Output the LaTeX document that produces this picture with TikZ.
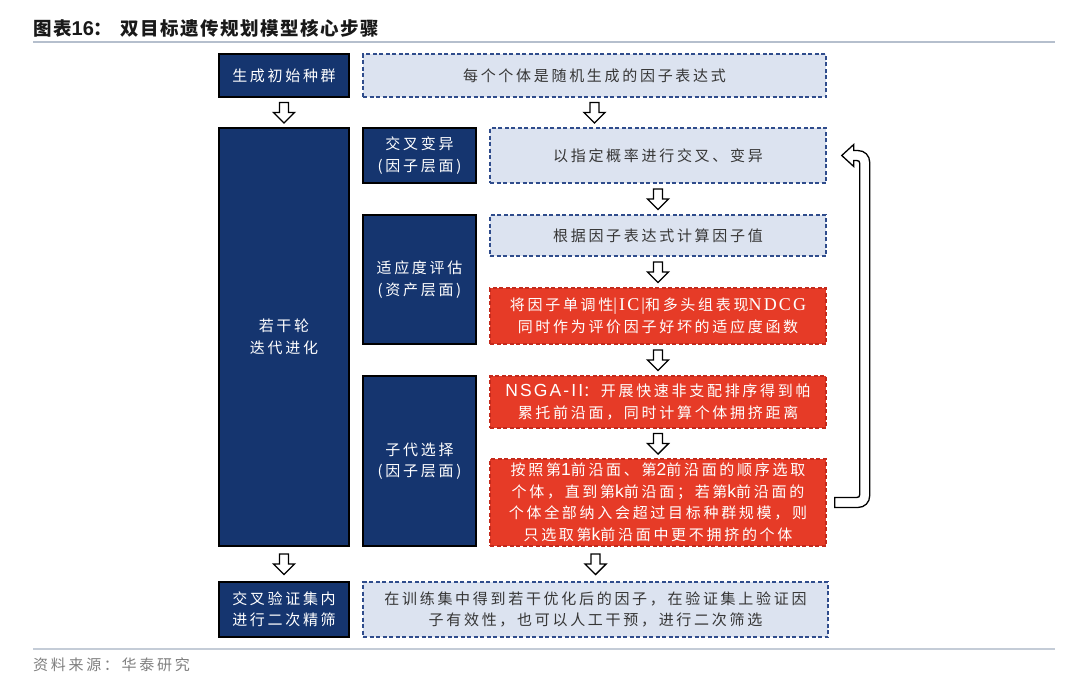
\documentclass[tikz,border=0pt]{standalone}
\usepackage{fontspec}
\newfontfamily\cjk{Noto Sans CJK SC}[LetterSpace=18]
\newfontfamily\cjktitle{Noto Sans CJK SC}[LetterSpace=8]
\newfontfamily\latsans{Liberation Sans}[LetterSpace=12]
\newfontfamily\latserif{Liberation Serif}[LetterSpace=12]
\newfontfamily\titlesans{Liberation Sans}
\newcommand{\ls}[1]{{\latsans\fontsize{17.5}{21.5}\selectfont #1}}
\newcommand{\lr}[1]{{\latserif\fontsize{18}{21.5}\selectfont #1}}
\usetikzlibrary{calc}
\definecolor{navy}{HTML}{15356F}
\definecolor{lightfill}{HTML}{DCE3F0}
\definecolor{dashblue}{HTML}{2F4C8C}
\definecolor{redfill}{HTML}{E63B27}
\definecolor{redborder}{HTML}{C42A1C}
\definecolor{textgray}{HTML}{363636}
\definecolor{rulegray}{HTML}{B5BFCD}
\definecolor{footgray}{HTML}{7F7F7F}
\tikzset{
  base/.style={align=center, inner sep=0pt, font=\cjk\fontsize{15}{21.5}\selectfont},
  navybox/.style={base, draw=black, line width=1.3pt, fill=navy, text=white},
  lightbox/.style={base, draw=dashblue, dash pattern=on 4pt off 2.5pt, line width=1.5pt, fill=lightfill, text=textgray},
  redbox/.style={base, draw=redborder, dash pattern=on 4pt off 2.5pt, line width=1.5pt, fill=redfill, text=white},
  hollow/.style={draw=black, fill=white, line width=1.4pt, line join=miter},
  hdown/.pic={\draw[hollow] (-4.5,-10) -- (4.5,-10) -- (4.5,0) -- (10.5,0) -- (0,10.5) -- (-10.5,0) -- (-4.5,0) -- cycle;},
  rulestyle/.style={draw=rulegray, line width=2pt}
}
\begin{document}
\begin{tikzpicture}[x=1pt,y=-1pt]
\fill[white] (0,0) rectangle (1080,699);
\useasboundingbox (0,0) rectangle (1080,699);

% title and rules
\node[anchor=west, inner sep=0pt, font=\cjktitle\bfseries\fontsize{18.5}{22}\selectfont, text=black!90] (title) at (33,28) {图表{\titlesans\bfseries\fontsize{20}{22}\selectfont 16}：\hspace{8pt}双目标遗传规划模型核心步骤};
\coordinate (r1a) at (33,42);
\coordinate (r1b) at (1055,42);
\draw[rulestyle] (r1a) -- (r1b);
\coordinate (r2a) at (33,649);
\coordinate (r2b) at (1055,649);
\draw[rulestyle, draw=rulegray!80, line width=1.5pt] (r2a) -- (r2b);
\node[anchor=west, inner sep=0pt, font=\cjk\fontsize{15}{20}\selectfont, text=footgray] (foot) at (33,665) {资料来源：华泰研究};

% boxes
\node[navybox, minimum width=130, minimum height=43] (init) at (284,75.5) {生成初始种群};
\node[lightbox, minimum width=463, minimum height=43] (d1) at (594.5,75.5) {每个个体是随机生成的因子表达式};

\node[navybox, minimum width=130, minimum height=418] (iter) at (284,337) {若干轮\\迭代进化};

\node[navybox, minimum width=113, minimum height=55] (cross) at (419.5,155.5) {交叉变异\\(因子层面)};
\node[lightbox, minimum width=336, minimum height=55] (d2) at (658,155.5) {以指定概率进行交叉、变异};

\node[navybox, minimum width=113, minimum height=129] (fit) at (419.5,279.5) {适应度评估\\(资产层面)};
\node[lightbox, minimum width=336, minimum height=41] (d3) at (658,235.5) {根据因子表达式计算因子值};
\node[redbox, minimum width=336, minimum height=56] (rA) at (658,316) {将因子单调性\lr{|IC|}和多头组表现\lr{NDCG}\\同时作为评价因子好坏的适应度函数};

\node[navybox, minimum width=113, minimum height=170] (sel) at (419.5,461) {子代选择\\(因子层面)};
\node[redbox, minimum width=336, minimum height=52] (rB) at (658,402) {\ls{NSGA-II}：开展快速非支配排序得到帕\\累托前沿面，同时计算个体拥挤距离};
\node[redbox, minimum width=336, minimum height=87] (rC) at (658,502.5) {按照第\ls{1}前沿面、第\ls{2}前沿面的顺序选取\\个体，直到第\ls{k}前沿面；若第\ls{k}前沿面的\\个体全部纳入会超过目标种群规模，则\\只选取第\ls{k}前沿面中更不拥挤的个体};

\node[navybox, minimum width=130, minimum height=55] (final) at (284,609.5) {交叉验证集内\\进行二次精筛};
\node[lightbox, minimum width=465, minimum height=55] (d4) at (595.5,609.5) {在训练集中得到若干优化后的因子，在验证集上验证因\\子有效性，也可以人工干预，进行二次筛选};

% hollow down arrows
\path (init.south) -- (iter.north) coordinate[midway] (a1);
\pic at (a1) {hdown};
\path (d1.south) -- (d1.south |- d2.north) coordinate[midway] (a2);
\pic at (a2) {hdown};
\path (d2.south) -- (d3.north) coordinate[midway] (a3);
\pic at (a3) {hdown};
\path (d3.south) -- (rA.north) coordinate[midway] (a4);
\pic at (a4) {hdown};
\path (rA.south) -- (rB.north) coordinate[midway] (a5);
\pic at (a5) {hdown};
\path (rB.south) -- (rC.north) coordinate[midway] (a6);
\pic at (a6) {hdown};
\path (iter.south) -- (final.north) coordinate[midway] (a7);
\pic at (a7) {hdown};
\path (rC.south -| d4.north) -- (d4.north) coordinate[midway] (a8);
\pic at (a8) {hdown};

% feedback arrow from rC back to d2
\draw[hollow, line width=1.3pt]
  ($(rC.east)+(8,-5)$) -- ($(rC.east)+(30,-5)$)
  .. controls ($(rC.east)+(32,-5)$) and ($(rC.east)+(33,-6)$) .. ($(rC.east)+(33,-8)$)
  -- ($(d2.east)+(33,8)$)
  .. controls ($(d2.east)+(33,6)$) and ($(d2.east)+(32,5)$) .. ($(d2.east)+(30,5)$)
  -- ($(d2.east)+(27,5)$) -- ($(d2.east)+(27,11)$) -- ($(d2.east)+(15,0)$)
  -- ($(d2.east)+(27,-11)$) -- ($(d2.east)+(27,-5)$) -- ($(d2.east)+(31,-5)$)
  .. controls ($(d2.east)+(38,-5)$) and ($(d2.east)+(43,0)$) .. ($(d2.east)+(43,7)$)
  -- ($(rC.east)+(43,-7)$)
  .. controls ($(rC.east)+(43,0)$) and ($(rC.east)+(38,5)$) .. ($(rC.east)+(31,5)$)
  -- ($(rC.east)+(8,5)$) -- cycle;
\end{tikzpicture}
\end{document}
